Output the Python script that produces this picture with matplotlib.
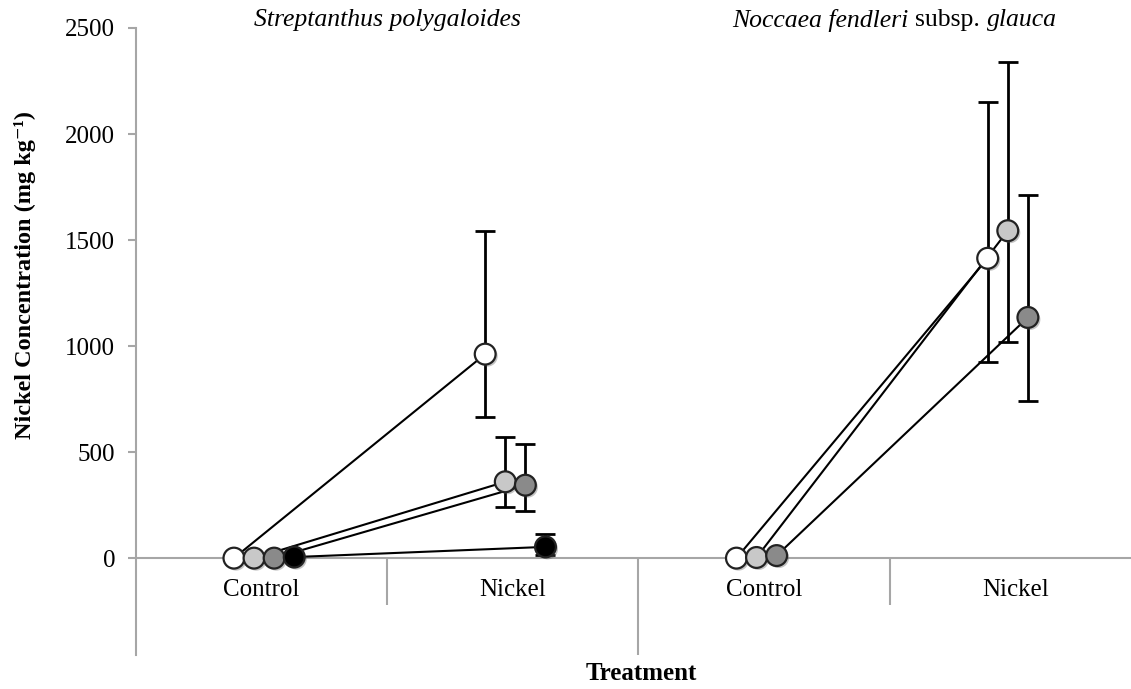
import numpy as np
import matplotlib
matplotlib.use("Agg")
import matplotlib.pyplot as plt
import matplotlib.patheffects as pe
import matplotlib.transforms as mtransforms

plt.rcParams['font.family'] = ['Liberation Serif', 'DejaVu Serif']

# category positions: Streptanthus control/nickel, Noccaea control/nickel
categories = ['Control', 'Nickel', 'Control', 'Nickel']

# series fill colours (white, light grey, dark grey, black)
series_colors = ['#ffffff', '#c8c8c8', '#8a8a8a', '#000000']
offsets = [-0.11, -0.03, 0.05, 0.13]

# Streptanthus polygaloides: control, nickel means and error (lower, upper)
strep_control = [0, 0, 0, 5]
strep_nickel = [962, 360, 344, 53]
strep_err_lo = [298, 121, 121, 40]
strep_err_hi = [582, 212, 195, 60]

# Noccaea fendleri subsp. glauca
nocc_control = [0, 3, 12]
nocc_nickel = [1414, 1544, 1135]
nocc_err_lo = [491, 524, 393]
nocc_err_hi = [738, 796, 577]

fig = plt.figure(figsize=(11.31, 6.89), dpi=100)
ax = fig.add_axes([0.1202, 0.0493, 0.8886, 0.9101])

grey = '#a6a6a6'
shadow = [pe.SimplePatchShadow(offset=(1.5, -1.5), shadow_rgbFace='#555555', alpha=0.35), pe.Normal()]


def draw_group(x0, ctrl, nick, lo, hi):
    for i, (c, n, l, h) in enumerate(zip(ctrl, nick, lo, hi)):
        xc = x0 + offsets[i]
        xn = x0 + 1 + offsets[i]
        ax.plot([xc, xn], [c, n], color='black', lw=1.5, zorder=2)
        ax.errorbar([xn], [n], yerr=[[l], [h]], fmt='none', ecolor='black',
                    elinewidth=2, capsize=7, capthick=2, zorder=3)
        ax.plot([xc, xn], [c, n], ls='none', marker='o', ms=15,
                mfc=series_colors[i], mec='#222222', mew=1.6, zorder=4,
                path_effects=shadow)


draw_group(0, strep_control, strep_nickel, strep_err_lo, strep_err_hi)
draw_group(2, nocc_control, nocc_nickel, nocc_err_lo, nocc_err_hi)

ax.set_xlim(-0.5, 3.5)
ax.set_ylim(-457, 2500)

# axes styling
for s in ['top', 'right', 'bottom']:
    ax.spines[s].set_visible(False)
ax.spines['left'].set_color(grey)
ax.spines['left'].set_linewidth(1.5)
ax.set_yticks(np.arange(0, 2501, 500))
ax.tick_params(axis='y', direction='out', length=6, width=1.5, color=grey,
               labelsize=18, pad=9)

# category axis at zero with dividers
ax.axhline(0, color=grey, lw=1.5, zorder=1, xmin=-0.02)
ax.vlines([0.5, 2.5], -220, 0, color=grey, lw=1.5, zorder=1)
ax.vlines([1.5], -457, 0, color=grey, lw=1.5, zorder=1)
ax.set_xticks([])
for x, lab in enumerate(categories):
    ax.text(x, -150, lab, ha='center', va='center', fontsize=18)

# species titles
trans = mtransforms.blended_transform_factory(ax.transData, ax.transAxes)
ax.text(0.5, 1.012, 'Streptanthus polygaloides', transform=trans,
        ha='center', va='center', fontsize=18.5, style='italic')

# second title mixes italic and roman parts
parts = [('Noccaea fendleri ', 'italic'), ('subsp. ', 'normal'), ('glauca', 'italic')]
renderer = fig.canvas.get_renderer()
widths = []
for txt, st in parts:
    tt = ax.text(0, 0, txt, fontsize=18.5, style=st)
    widths.append(tt.get_window_extent(renderer).width)
    tt.remove()
xc_pix = ax.transData.transform((2.52, 0))[0]
y_pix = ax.transAxes.transform((0, 1.012))[1]
xstart = xc_pix - sum(widths) / 2
for (txt, st), w in zip(parts, widths):
    fx, fy = fig.transFigure.inverted().transform((xstart, y_pix))
    fig.text(fx, fy, txt, fontsize=18.5, style=st, ha='left', va='center')
    xstart += w

fig.text(25 / 1131, 1 - 275 / 689, 'Nickel Concentration (mg kg\u207b\u00b9)',
         rotation=90, ha='center', va='center', fontsize=17.5, fontweight='bold')
fig.text(641 / 1131, 1 - 673 / 689, 'Treatment', ha='center', va='center',
         fontsize=18, fontweight='bold')

fig.savefig('out.png', dpi=100)
